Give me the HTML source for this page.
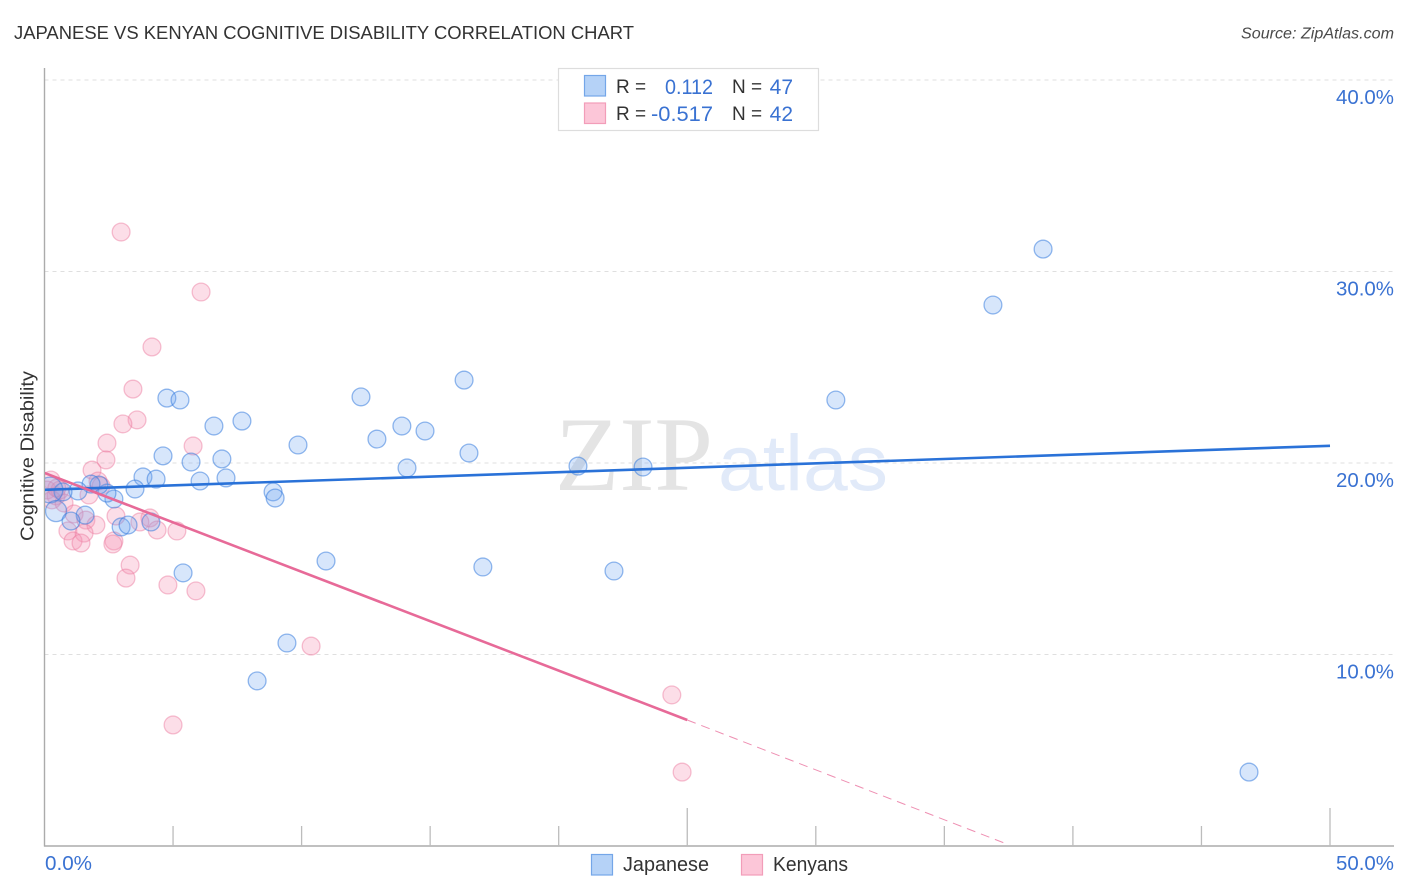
<!DOCTYPE html>
<html lang="en">
<head>
<meta charset="utf-8">
<title>Japanese vs Kenyan Cognitive Disability Correlation Chart</title>
<style>
html,body{margin:0;padding:0;background:#fff;}
svg{display:block;}
text{font-family:"Liberation Sans",sans-serif;}
</style>
</head>
<body>
<svg id="chart" xmlns="http://www.w3.org/2000/svg" width="1406" height="892" viewBox="0 0 1406 892">
  <defs>
    <clipPath id="plot-clip"><rect x="45" y="60" width="1350" height="786"/></clipPath>
  </defs>
  <rect x="0" y="0" width="1406" height="892" fill="#ffffff"/>
  <text x="14" y="39" font-size="18.5" fill="#333333" textLength="620" lengthAdjust="spacingAndGlyphs">JAPANESE VS KENYAN COGNITIVE DISABILITY CORRELATION CHART</text>
  <text x="1241" y="38.5" font-size="15.5" font-style="italic" fill="#4a4a4a" textLength="153" lengthAdjust="spacingAndGlyphs">Source: ZipAtlas.com</text>

  <g>
    <text x="555" y="490" font-size="106" fill="#e4e4e4" textLength="158" lengthAdjust="spacingAndGlyphs" style="font-family:'Liberation Serif',serif">ZIP</text>
    <text x="718" y="490" font-size="79" fill="#e1eaf9" textLength="170" lengthAdjust="spacingAndGlyphs">atlas</text>
  </g>

  <g id="grid"></g>
  <g id="axes"></g>
  <g id="points-kenyans" clip-path="url(#plot-clip)"></g>
  <g id="points-japanese" clip-path="url(#plot-clip)"></g>
  <g id="trends" clip-path="url(#plot-clip)"></g>
  <g id="labels"></g>

  <text transform="translate(33.5,456) rotate(-90)" text-anchor="middle" font-size="18.5" fill="#333333" textLength="170" lengthAdjust="spacingAndGlyphs">Cognitive Disability</text>

  <g>
    <rect x="558.5" y="68.5" width="260" height="62" fill="#ffffff" stroke="#dddddd" stroke-width="1.2"/>
    <rect x="584.5" y="75.5" width="21" height="20.5" fill="#b5d2f7" stroke="#74a6e8" stroke-width="1.2"/>
    <rect x="584.5" y="103" width="21" height="20.5" fill="#fcc6d8" stroke="#f29db9" stroke-width="1.2"/>
    <text x="616" y="93" font-size="19" fill="#333333">R =</text>
    <text x="713" y="94" font-size="21" fill="#3a72d2" text-anchor="end" textLength="48" lengthAdjust="spacingAndGlyphs">0.112</text>
    <text x="732" y="93" font-size="19" fill="#333333">N =</text>
    <text x="793" y="94" font-size="21" fill="#3a72d2" text-anchor="end">47</text>
    <text x="616" y="120" font-size="19" fill="#333333">R =</text>
    <text x="713" y="121" font-size="21" fill="#3a72d2" text-anchor="end" textLength="62" lengthAdjust="spacingAndGlyphs">-0.517</text>
    <text x="732" y="120" font-size="19" fill="#333333">N =</text>
    <text x="793" y="121" font-size="21" fill="#3a72d2" text-anchor="end">42</text>
  </g>

  <g>
    <rect x="591.5" y="854.5" width="21" height="20.5" fill="#b5d2f7" stroke="#74a6e8" stroke-width="1.2"/>
    <text x="623" y="871" font-size="20" fill="#333333" textLength="86" lengthAdjust="spacingAndGlyphs">Japanese</text>
    <rect x="741.5" y="854.5" width="21" height="20.5" fill="#fcc6d8" stroke="#f29db9" stroke-width="1.2"/>
    <text x="773" y="871" font-size="20" fill="#333333" textLength="75" lengthAdjust="spacingAndGlyphs">Kenyans</text>
  </g>
</svg>

<script>
const xTicks = [5, 10, 15, 20, 25, 30, 35, 40, 45, 50];
const xMajorTicks = [25, 50];
const yTicks = [10, 20, 30, 40];
const xTickLabels = ['0.0%', '50.0%'];
const yTickLabels = ['10.0%', '20.0%', '30.0%', '40.0%'];

const japaneseX = [46.85, 38.84, 36.89, 30.78, 16.32, 12.31, 13.90, 14.80, 12.93, 9.86, 16.51, 14.10, 20.75, 23.28, 7.68, 6.59, 4.76, 5.27, 4.61, 6.90, 5.70, 3.83, 4.34, 7.06, 6.05, 3.52, 8.89, 8.97, 2.70, 2.43, 2.12, 1.81, 1.30, 0.72, 0.21, 0.45, 1.58, 1.03, 2.98, 3.25, 4.14, 10.95, 5.39, 17.05, 22.15, 9.43, 8.27];
const japaneseY = [3.86, 31.17, 28.25, 23.29, 24.33, 23.45, 21.93, 21.67, 21.25, 20.94, 20.52, 19.74, 19.84, 19.79, 22.19, 21.93, 23.39, 23.29, 20.37, 20.21, 20.05, 19.27, 19.16, 19.22, 19.06, 18.64, 18.49, 18.17, 18.12, 18.43, 18.85, 18.90, 18.54, 18.49, 18.59, 17.49, 17.28, 16.97, 16.66, 16.76, 16.92, 14.88, 14.26, 14.57, 14.36, 10.60, 8.62];
const japaneseWeight = [1, 1, 1, 1, 1, 1, 1, 1, 1, 1, 1, 1, 1, 1, 1, 1, 1, 1, 1, 1, 1, 1, 1, 1, 1, 1, 1, 1, 1, 1, 1, 1, 1, 1, 2.1, 1.4, 1, 1, 1, 1, 1, 1, 1, 1, 1, 1, 1];

const kenyansX = [2.98, 6.09, 4.18, 3.44, 3.60, 3.05, 2.43, 5.78, 2.39, 1.85, 2.08, 2.20, 1.73, 0.25, 0.10, 0.45, 0.29, 0.60, 0.76, 2.78, 1.15, 1.61, 4.10, 3.71, 2.00, 4.38, 5.15, 0.91, 1.54, 1.11, 1.42, 2.70, 2.66, 3.33, 3.17, 4.80, 5.89, 10.37, 24.40, 5.00, 24.80, 0.48];
const kenyansY = [32.06, 28.93, 26.06, 23.86, 22.25, 22.04, 21.04, 20.89, 20.16, 19.63, 19.06, 18.80, 18.33, 19.11, 18.59, 18.28, 18.07, 18.59, 17.91, 17.23, 17.34, 17.02, 17.13, 16.92, 16.76, 16.50, 16.45, 16.45, 16.34, 15.93, 15.82, 15.93, 15.77, 14.67, 13.99, 13.63, 13.32, 10.44, 7.89, 6.32, 3.86, 18.69];

const japaneseTrendX = [0, 50];
const japaneseTrendY = [18.6, 20.9];
const kenyansTrendX = [0, 25];
const kenyansTrendY = [19.48, 6.58];
const kenyansTrendDashX = [25, 37.4];
const kenyansTrendDashY = [6.58, 0.12];

const SVG_NS = 'http://www.w3.org/2000/svg';
const xScale = (v) => 44.5 + v * 25.71;
const yScale = (v) => 846 - v * 19.15;

function make(parent, tag, attrs, text) {
  const el = document.createElementNS(SVG_NS, tag);
  for (const k in attrs) el.setAttribute(k, attrs[k]);
  if (text !== undefined) el.textContent = text;
  document.getElementById(parent).appendChild(el);
  return el;
}

yTicks.forEach((t, i) => {
  const line = make('grid', 'line', {x1: 44.5, x2: 1394, y1: yScale(t), y2: yScale(t), stroke: '#dfdfdf', 'stroke-width': 1, 'stroke-dasharray': '4 4'});
  
  
  const label = make('labels', 'text', {x: 1394, y: yScale(t) + 24, 'text-anchor': 'end', 'font-size': 20, fill: '#3a72d2', textLength: 58, lengthAdjust: 'spacingAndGlyphs'}, yTickLabels[i]);
  
  
});

const yAxis = make('axes', 'line', {x1: 44.5, x2: 44.5, y1: 68, y2: 846.5, stroke: '#ababab', 'stroke-width': 1.4});


const xAxis = make('axes', 'line', {x1: 44, x2: 1394, y1: 846, y2: 846, stroke: '#ababab', 'stroke-width': 1.4});



xTicks.forEach((t) => {
  const top = xMajorTicks.includes(t) ? 808 : 826;
  const tick = make('axes', 'line', {x1: xScale(t), x2: xScale(t), y1: top, y2: 846, stroke: '#bcbcbc', 'stroke-width': 1.3});
  
  
});

const xLabelLeft = make('labels', 'text', {x: 45, y: 870, 'font-size': 20, fill: '#3a72d2', textLength: 47, lengthAdjust: 'spacingAndGlyphs'}, xTickLabels[0]);


const xLabelRight = make('labels', 'text', {x: 1394, y: 870, 'text-anchor': 'end', 'font-size': 20, fill: '#3a72d2', textLength: 58, lengthAdjust: 'spacingAndGlyphs'}, xTickLabels[1]);



kenyansX.forEach((v, i) => {
  const c = make('points-kenyans', 'circle', {cx: xScale(v), cy: yScale(kenyansY[i]), r: 8.9, fill: 'rgba(244,145,178,0.30)', stroke: 'rgba(236,125,160,0.48)', 'stroke-width': 1.3});
  
  
});

japaneseX.forEach((v, i) => {
  const c = make('points-japanese', 'circle', {cx: xScale(v), cy: yScale(japaneseY[i]), r: 8.9 * Math.sqrt(japaneseWeight[i]), fill: 'rgba(110,165,240,0.28)', stroke: 'rgba(50,120,220,0.52)', 'stroke-width': 1.3});
  
  
});

const blueLine = make('trends', 'line', {x1: xScale(japaneseTrendX[0]), y1: yScale(japaneseTrendY[0]), x2: xScale(japaneseTrendX[1]), y2: yScale(japaneseTrendY[1]), stroke: '#2a72d8', 'stroke-width': 2.6});


const pinkLine = make('trends', 'line', {x1: xScale(kenyansTrendX[0]), y1: yScale(kenyansTrendY[0]), x2: xScale(kenyansTrendX[1]), y2: yScale(kenyansTrendY[1]), stroke: '#e76a98', 'stroke-width': 2.6});


const pinkDash = make('trends', 'line', {x1: xScale(kenyansTrendDashX[0]), y1: yScale(kenyansTrendDashY[0]), x2: xScale(kenyansTrendDashX[1]), y2: yScale(kenyansTrendDashY[1]), stroke: '#ee8fb2', 'stroke-width': 1, 'stroke-dasharray': '9 6'});


</script>
</body>
</html>
